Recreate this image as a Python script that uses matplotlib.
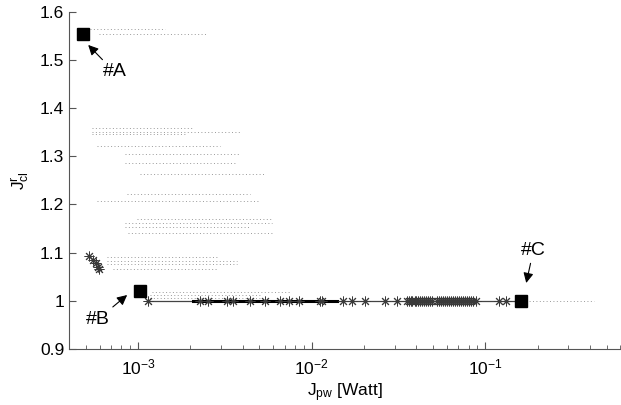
import matplotlib
matplotlib.use('Agg')
import matplotlib.pyplot as plt

plt.rcParams.update({
    'font.family': ['Liberation Sans', 'DejaVu Sans'],
    'mathtext.fontset': 'custom',
    'mathtext.rm': 'Liberation Sans',
    'mathtext.it': 'Liberation Sans',
    'font.size': 12.5,
})

# grey dotted bands of the population: (y, x start, x end)
band_y = [1.564, 1.554, 1.359, 1.351, 1.346, 1.321, 1.305, 1.286, 1.263,
          1.222, 1.207, 1.170, 1.161, 1.153, 1.140, 1.091, 1.083, 1.076,
          1.066, 1.018, 1.012, 1.006, 1.000]
band_x0 = [5.3e-4, 5.97e-4, 5.44e-4, 5.44e-4, 5.44e-4, 5.81e-4, 8.42e-4,
           8.42e-4, 1.03e-3, 8.65e-4, 5.81e-4, 9.87e-4, 8.42e-4, 8.42e-4,
           8.77e-4, 6.64e-4, 6.64e-4, 6.64e-4, 7.18e-4, 1.20e-3, 1.17e-3,
           1.17e-3, 1.14e-3]
band_x1 = [1.43e-3, 2.49e-3, 2.07e-3, 3.86e-3, 1.86e-3, 2.96e-3, 3.86e-3,
           3.61e-3, 5.37e-3, 4.40e-3, 5.03e-3, 5.89e-3, 5.89e-3, 4.40e-3,
           5.89e-3, 2.85e-3, 3.71e-3, 3.71e-3, 2.85e-3, 7.48e-3, 5.03e-3,
           5.03e-3, 0.42]

# front line at J_cl = 1
front_x = [1.14e-3, 0.16]
front_y = [1.0, 1.0]
dense_x = [2.07e-3, 1.39e-2]
dense_y = [1.0, 1.0]

# asterisks (non-dominated solutions)
star_x = [5.22e-4, 5.5e-4, 5.74e-4, 5.89e-4, 5.97e-4,
          1.14e-3, 2.27e-3, 2.52e-3, 3.24e-3, 3.51e-3, 4.40e-3, 5.37e-3,
          6.55e-3, 7.38e-3, 8.42e-3, 1.11e-2, 1.15e-2, 1.51e-2, 1.70e-2,
          2.04e-2, 2.66e-2, 3.08e-2,
          0.0352, 0.0361, 0.0371, 0.0380, 0.0391, 0.0401, 0.0412, 0.0423,
          0.0434, 0.0446, 0.0458, 0.0470, 0.0483, 0.0496,
          0.0530, 0.0544, 0.0559, 0.0574, 0.0589, 0.0605, 0.0621, 0.0638,
          0.0655, 0.0673, 0.0691, 0.0709, 0.0728, 0.0748, 0.0768, 0.0788,
          0.0810, 0.0831, 0.0854, 0.0888, 0.120, 0.132]
star_y = [1.093, 1.085, 1.078, 1.070, 1.066] + [1.0] * 53

# highlighted designs
sel_names = ['#A', '#B', '#C']
sel_x = [4.83e-4, 1.02e-3, 0.16]
sel_y = [1.554, 1.0205, 1.0]
lab_x = [7.3e-4, 5.89e-4, 0.189]
lab_y = [1.475, 0.962, 1.104]
head_x = [5.16e-4, 8.65e-4, 0.172]
head_y = [1.531, 1.012, 1.037]

fig = plt.figure(figsize=(6.21, 4.05), dpi=100)
ax = fig.add_axes([0.1111, 0.1383, 0.888, 0.8328])

for y, x0, x1 in zip(band_y, band_x0, band_x1):
    ax.plot([x0, x1], [y, y], linestyle=(0, (1, 2.5)), color='#9a9a9a',
            lw=0.7)

ax.plot(front_x, front_y, color='#444444', lw=0.9)
ax.plot(dense_x, dense_y, color='black', lw=2.2)
ax.plot(star_x, star_y, linestyle='none', marker=(8, 2, 0), markersize=7,
        markeredgewidth=0.7, color='#3a3a3a')
ax.plot(sel_x, sel_y, linestyle='none', marker='s', markersize=8.5,
        color='black')

for name, tx, ty, hx, hy in zip(sel_names, lab_x, lab_y, head_x, head_y):
    ax.annotate(name, xy=(hx, hy), xytext=(tx, ty), ha='center', va='center',
                fontsize=14,
                arrowprops=dict(arrowstyle='-|>', lw=0.8, color='black',
                                mutation_scale=15, shrinkA=1, shrinkB=0))

ax.set_xscale('log')
ax.set_xlim(4e-4, 0.6)
ax.set_ylim(0.9, 1.6)
ax.set_yticks([0.9, 1.0, 1.1, 1.2, 1.3, 1.4, 1.5, 1.6])
ax.set_yticklabels(['0.9', '1', '1.1', '1.2', '1.3', '1.4', '1.5', '1.6'])
ax.set_xticks([1e-3, 1e-2, 1e-1])
ax.set_xticklabels(['$\\mathregular{10^{-3}}$', '$\\mathregular{10^{-2}}$',
                    '$\\mathregular{10^{-1}}$'])

for s in ['top', 'right']:
    ax.spines[s].set_visible(False)
for s in ['left', 'bottom']:
    ax.spines[s].set_color('#555555')
    ax.spines[s].set_linewidth(0.8)
ax.tick_params(which='both', direction='in', color='#555555', labelsize=12.5)
ax.tick_params(which='major', length=5)
ax.tick_params(which='minor', length=3)
ax.tick_params(axis='x', pad=6)

ax.set_xlabel('$\\mathregular{J_{pw}}$ [Watt]', fontsize=12.5, labelpad=3)
ax.set_ylabel('$\\mathregular{J^{r}_{cl}}$', fontsize=12.5, labelpad=6)

fig.savefig('out.png', dpi=100)
